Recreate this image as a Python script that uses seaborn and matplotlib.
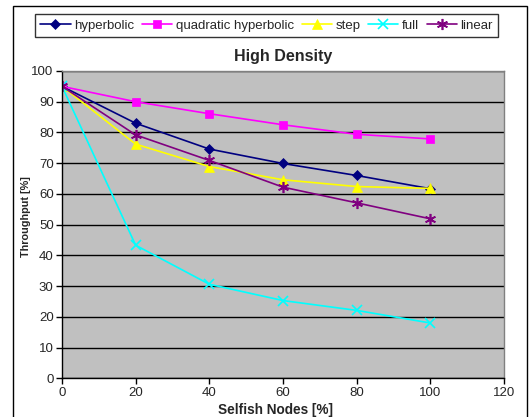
import matplotlib
matplotlib.use("Agg")
import matplotlib.pyplot as plt
from matplotlib.patches import Rectangle
import seaborn as sns
import pandas as pd

selfish = [0, 20, 40, 60, 80, 100]
hyperbolic = [95, 83, 74.6, 69.9, 66.0, 61.7]
quadratic_hyperbolic = [95, 90, 86.1, 82.5, 79.4, 77.9]
step = [95, 76.2, 68.9, 64.6, 62.4, 61.8]
full = [95, 43.3, 30.6, 25.3, 22.1, 18.0]
linear = [95, 79.2, 70.9, 62.2, 57.1, 51.9]

series_names = ["hyperbolic", "quadratic hyperbolic", "step", "full", "linear"]
series_values = [hyperbolic, quadratic_hyperbolic, step, full, linear]
colors = ["#000080", "#FF00FF", "#FFFF00", "#00FFFF", "#800080"]
markers = ["D", "s", "^", "x", (6, 2, 0)]
msizes = [5, 6, 7, 7, 8]

sns.set_style("white")
plt.rcParams['font.family'] = ['Liberation Sans', 'DejaVu Sans']

fig = plt.figure(figsize=(5.32, 4.17), dpi=100)
ax = fig.add_axes([62/532, 1-378.3/417, (504-62)/532, (378.3-71)/417])
ax.set_facecolor("#C0C0C0")

frame = Rectangle((13/532, -0.1), (527-13)/532, 1.1 - 6/417, transform=fig.transFigure,
                  fill=False, edgecolor="black", linewidth=1.0)
fig.patches.append(frame)

for name, vals, c, m, ms in zip(series_names, series_values, colors, markers, msizes):
    df = pd.DataFrame({"x": selfish, "y": vals})
    sns.lineplot(data=df, x="x", y="y", ax=ax, color=c, marker=m, markersize=ms,
                 markeredgecolor=c, markerfacecolor=c, linewidth=1.2, label=name,
                 markeredgewidth=1.2 if m in ("x", (6, 2, 0)) else 0.5)

ax.set_xlim(0, 120)
ax.set_ylim(0, 100)
ax.set_xticks(range(0, 121, 20))
ax.set_yticks(range(0, 101, 10))
ax.yaxis.grid(True, color="black", linewidth=1.0)
ax.xaxis.grid(False)
ax.set_axisbelow(True)
ax.tick_params(axis="both", direction="out", length=4, width=1, color="black",
               labelsize=9.5, pad=2, left=True, bottom=True)
for s in ["left", "bottom"]:
    ax.spines[s].set_color("black")
    ax.spines[s].set_linewidth(1.0)
for s in ["top", "right"]:
    ax.spines[s].set_color("#808080")
    ax.spines[s].set_linewidth(1.0)

ax.set_title("High Density", fontsize=11.5, fontweight="bold", pad=7)
ax.set_xlabel("Selfish Nodes [%]", fontsize=9.8, fontweight="bold")
ax.xaxis.set_label_coords((275-62)/442, -(410-378.3)/307.3)
ax.xaxis.label.set_verticalalignment("center")
ax.set_ylabel("Throughput [%]", fontsize=7.8, fontweight="bold")
ax.yaxis.set_label_coords((26.5-62)/442, (378.3-217)/307.3)
ax.yaxis.label.set_verticalalignment("center")

leg = ax.legend(loc="center", bbox_to_anchor=(266.5/532, 1-25.8/417), bbox_transform=fig.transFigure,
                ncol=5, frameon=True, fancybox=False, fontsize=9.5, handlelength=2.3,
                handletextpad=0.25, columnspacing=0.6, borderpad=0.4, borderaxespad=0)
leg.get_frame().set_edgecolor("black")
leg.get_frame().set_linewidth(1.0)

fig.savefig("out.png", dpi=100)
